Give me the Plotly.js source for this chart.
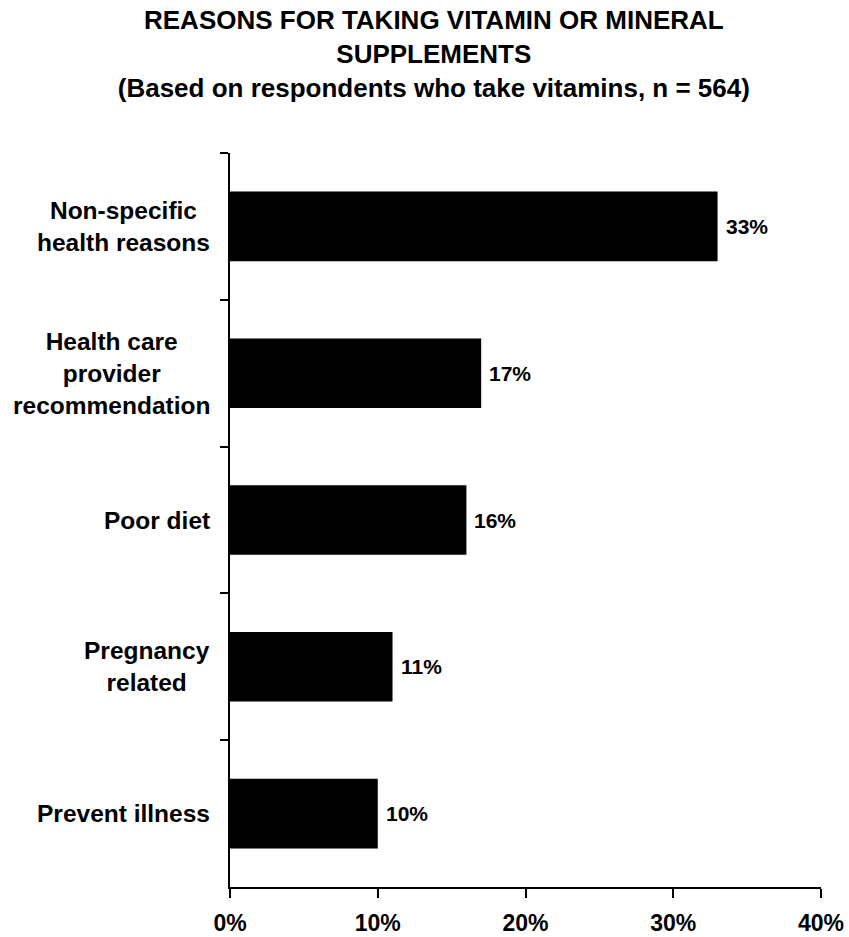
<!DOCTYPE html>
<html>
<head>
<meta charset="utf-8">
<script src="https://cdn.plot.ly/plotly-3.0.1.min.js"></script>
<style>
  html, body { margin: 0; padding: 0; background: #ffffff; }
  #chart { width: 849px; height: 937px; }
</style>
</head>
<body>
<div id="chart"></div>
<script>
// Reasons for taking supplements, listed top to bottom
const reasons = [
  'Non-specific<br>health reasons',
  'Health care<br>provider<br>recommendation',
  'Poor diet',
  'Pregnancy<br>related',
  'Prevent illness'
];
const percentages = [33, 17, 16, 11, 10];
const tickValues = [0, 10, 20, 30, 40];
const tickLabels = ['0%', '10%', '20%', '30%', '40%'];

const FONT = 'Arial, "Liberation Sans", Helvetica, sans-serif';

const bars = {
  type: 'bar',
  orientation: 'h',
  x: percentages,
  y: reasons,
  marker: { color: '#000000', line: { width: 0 } },
  hoverinfo: 'skip'
};

// value labels to the right of each bar
const valueLabels = percentages.map((v, i) => ({
  x: v, y: reasons[i], xref: 'x', yref: 'y',
  text: v + '%', showarrow: false,
  xanchor: 'left', yanchor: 'middle', xshift: 6,
  font: { family: FONT, size: 21, color: '#000', weight: 'bold' }
}));

// category labels, centred line by line, left of the axis
const categoryLabels = reasons.map(r => ({
  x: 0, y: r, xref: 'paper', yref: 'y',
  text: r, showarrow: false, align: 'center',
  xanchor: 'right', yanchor: 'middle', xshift: -18,
  font: { family: FONT, size: 24.5, color: '#000', weight: 'bold' }
}));

const layout = {
  width: 849,
  height: 937,
  paper_bgcolor: '#ffffff',
  plot_bgcolor: '#ffffff',
  margin: { l: 230, r: 28, t: 153, b: 50 },
  showlegend: false,
  bargap: 0.526,
  title: {
    text: 'REASONS FOR TAKING VITAMIN OR MINERAL<br>SUPPLEMENTS<br>(Based on respondents who take vitamins, n = 564)',
    font: { family: FONT, size: 26, color: '#000', weight: 'bold' },
    xref: 'container', x: 0.511, xanchor: 'center',
    yref: 'container', y: 0.969, yanchor: 'top'
  },
  xaxis: {
    range: [0, 40],
    tickvals: tickValues,
    ticktext: tickLabels,
    ticks: 'outside', ticklen: 9, tickwidth: 2, tickcolor: '#000',
    ticklabelstandoff: 5,
    showline: true, linecolor: '#000', linewidth: 2,
    showgrid: false, zeroline: false,
    tickfont: { family: FONT, size: 23, color: '#000', weight: 'bold' },
    fixedrange: true
  },
  yaxis: {
    type: 'category',
    categoryorder: 'array',
    categoryarray: reasons,
    autorange: 'reversed',
    tickson: 'boundaries',
    ticks: 'outside', ticklen: 8, tickwidth: 2, tickcolor: '#000',
    showticklabels: false,
    showline: true, linecolor: '#000', linewidth: 2,
    showgrid: false, zeroline: false,
    fixedrange: true
  },
  annotations: valueLabels.concat(categoryLabels)
};

Plotly.newPlot('chart', [bars], layout, { displayModeBar: false, staticPlot: true });
</script>
</body>
</html>
